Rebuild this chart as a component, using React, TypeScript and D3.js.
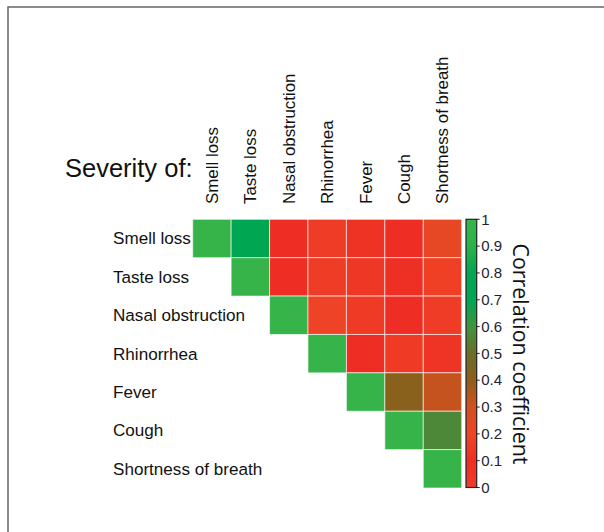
import React from "react";
import * as d3 from "d3";

// symptom order (rows and columns)
const symptoms = [
  "Smell loss",
  "Taste loss",
  "Nasal obstruction",
  "Rhinorrhea",
  "Fever",
  "Cough",
  "Shortness of breath",
];

// upper triangle of the correlation matrix, row by row (from diagonal onward)
const corrRows = [
  [1, 0.78, 0.1, 0.16, 0.12, 0.1, 0.23],
  [1, 0.1, 0.16, 0.14, 0.11, 0.18],
  [1, 0.19, 0.15, 0.1, 0.16],
  [1, 0.1, 0.15, 0.13],
  [1, 0.41, 0.32],
  [1, 0.57],
  [1],
];

const colorStops = [0, 0.1, 0.2, 0.3, 0.4, 0.5, 0.6, 0.7, 0.8, 0.9, 1];
const colorValues = [
  "#ef3b2c", "#ee2e24", "#ef4527", "#d2501f", "#8e5e1c", "#6a6d28",
  "#3f943f", "#00a651", "#00a651", "#2bb34a", "#36b44a",
];
const legendTicks = [0, 0.1, 0.2, 0.3, 0.4, 0.5, 0.6, 0.7, 0.8, 0.9, 1];

const W = 604;
const H = 532;

export default function App() {
  const x = d3.scaleBand<string>().domain(symptoms).range([192.7, 461.7]);
  const y = d3.scaleBand<string>().domain(symptoms).range([219.3, 488]);
  const color = d3.scaleLinear<string>().domain(colorStops).range(colorValues);
  const ly = d3.scaleLinear().domain([0, 1]).range([487.5, 219.3]);

  const cells = corrRows.flatMap((row, i) =>
    row.map((v, k) => ({ r: symptoms[i], c: symptoms[i + k], v }))
  );

  const gradStops = d3.range(0, 1.0001, 0.02);
  const font = "'Liberation Sans', Arial, sans-serif";

  return (
    <svg width={W} height={H} style={{ position: "absolute", left: 0, top: 0 }}>
      <defs>
        <linearGradient id="cbar" x1="0" y1="1" x2="0" y2="0">
          {gradStops.map((t) => (
            <stop key={t} offset={t} stopColor={color(t)} />
          ))}
        </linearGradient>
      </defs>
      <rect width={W} height={H} fill="#fff" />
      <path d={`M8,${H} V7 H${W}`} fill="none" stroke="#666" strokeWidth={1.5} />

      <text x={65} y={177} fontFamily={font} fontSize={25.5} fill="#111">
        Severity of:
      </text>

      {symptoms.map((s) => (
        <text
          key={"c" + s}
          transform={`translate(${x(s)! + x.bandwidth() / 2 + 6},204) rotate(-90)`}
          fontFamily={font}
          fontSize={16.9}
          fill="#111"
        >
          {s}
        </text>
      ))}
      {symptoms.map((s) => (
        <text
          key={"r" + s}
          x={113}
          y={y(s)! + y.bandwidth() / 2 + 6}
          fontFamily={font}
          fontSize={17.1}
          fill="#111"
        >
          {s}
        </text>
      ))}

      <g>
        {cells.map((d) => (
          <rect
            key={d.r + d.c}
            x={x(d.c)}
            y={y(d.r)}
            width={x.bandwidth()}
            height={y.bandwidth()}
            fill={color(d.v)}
            stroke="#fff"
            strokeOpacity={0.6}
            strokeWidth={1}
          />
        ))}
      </g>

      <g>
        <rect
          x={466}
          y={ly(1)}
          width={10.7}
          height={ly(0) - ly(1)}
          fill="url(#cbar)"
          stroke="#222"
          strokeWidth={1.2}
        />
        {legendTicks.map((t) => (
          <g key={t} transform={`translate(476.7,${ly(t)})`}>
            <line x2={3} stroke="#222" strokeWidth={1} />
            <text x={4.5} dy="0.35em" fontFamily={font} fontSize={15} fill="#1e2233">
              {d3.format("~g")(t)}
            </text>
          </g>
        ))}
        <text
          transform={`translate(512.5,354) rotate(90)`}
          textAnchor="middle"
          fontFamily="'Open Sans', sans-serif"
          fontSize={21.4}
          fill="#111"
        >
          Correlation coefficient
        </text>
      </g>
    </svg>
  );
}
